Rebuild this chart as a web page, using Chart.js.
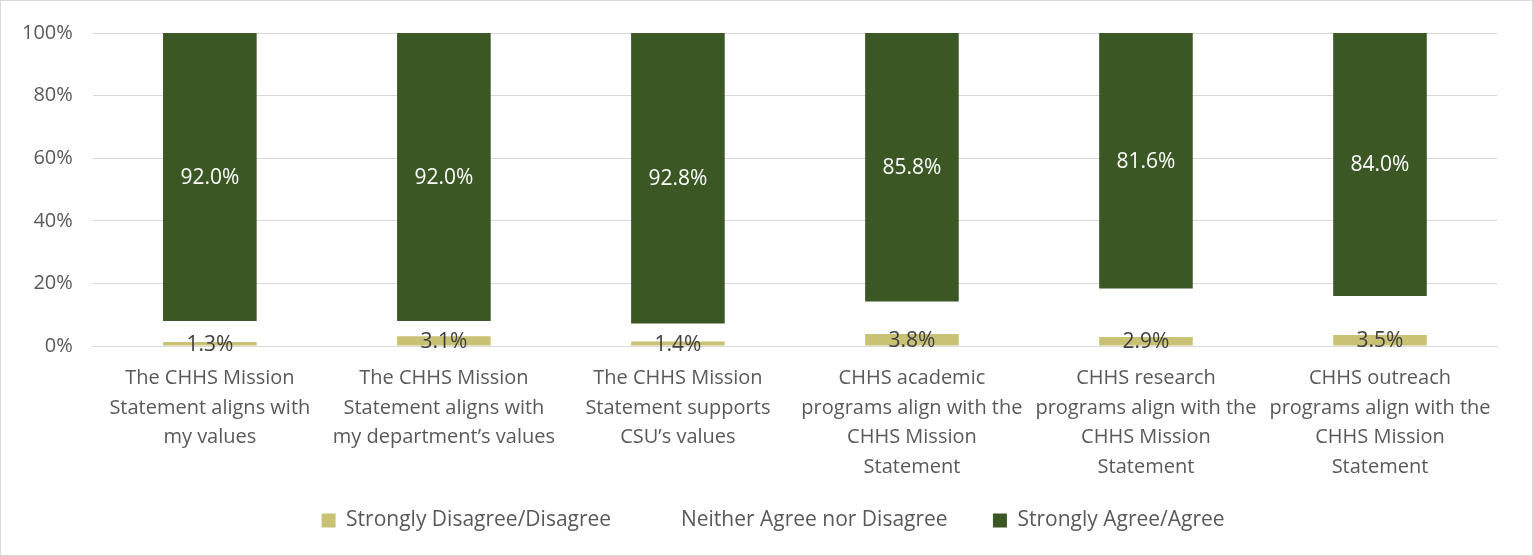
<!DOCTYPE html>
<html>
<head>
<meta charset="utf-8">
<script src="https://cdn.jsdelivr.net/npm/chart.js@4"></script>
<style>
  html, body { margin: 0; padding: 0; background: #fff; }
  #wrap { width: 1533px; height: 556px; box-sizing: border-box; border: 1px solid #d9d9d9; position: relative; }
</style>
</head>
<body>
<div id="wrap"><canvas id="grafica"></canvas></div>
<script>
// Datos de la gráfica
const categorias = [
  ["The CHHS Mission", "Statement aligns with", "my values"],
  ["The CHHS Mission", "Statement aligns with", "my department’s values"],
  ["The CHHS Mission", "Statement supports", "CSU’s values"],
  ["CHHS academic", "programs align with the", "CHHS Mission", "Statement"],
  ["CHHS research", "programs align with the", "CHHS Mission", "Statement"],
  ["CHHS outreach", "programs align with the", "CHHS Mission", "Statement"]
];
const series = ["Strongly Disagree/Disagree", "Neither Agree nor Disagree", "Strongly Agree/Agree"];
const desacuerdo = [1.3, 3.1, 1.4, 3.8, 2.9, 3.5];
const neutral = [6.7, 4.9, 5.8, 10.4, 15.5, 12.5];
const acuerdo = [92.0, 92.0, 92.8, 85.8, 81.6, 84.0];
const ticksY = [0, 20, 40, 60, 80, 100];

const fuente = "'Open Sans', sans-serif";
const gris = "#595959";

// Etiquetas de valores dentro de las barras
const etiquetas = {
  id: "etiquetas",
  afterDatasetsDraw(chart) {
    const ctx = chart.ctx;
    ctx.save();
    ctx.font = "21px " + fuente;
    ctx.textAlign = "center";
    ctx.textBaseline = "middle";
    chart.data.datasets.forEach((ds, i) => {
      if (!ds.mostrarEtiqueta) return;
      const meta = chart.getDatasetMeta(i);
      meta.data.forEach((bar, j) => {
        const p = bar.getProps(["x", "y", "base"], true);
        ctx.fillStyle = ds.colorEtiqueta;
        ctx.fillText(ds.data[j].toFixed(1) + "%", p.x, (p.y + p.base) / 2 + 1);
      });
    });
    ctx.restore();
  }
};

// Leyenda: espacio extra entre elementos (como en Excel)
function generarLeyenda(chart) {
  const items = Chart.defaults.plugins.legend.labels.generateLabels(chart);
  items.forEach((it, i) => {
    it.text = it.text + (i < items.length - 1 ? "     " : "        ");
  });
  return items;
}

new Chart(document.getElementById("grafica"), {
  type: "bar",
  data: {
    labels: categorias,
    datasets: [
      { label: series[0], data: desacuerdo, backgroundColor: "#c9c274", mostrarEtiqueta: true, colorEtiqueta: "#404040" },
      { label: series[1], data: neutral, backgroundColor: "rgba(255,255,255,0)", mostrarEtiqueta: false },
      { label: series[2], data: acuerdo, backgroundColor: "#3a5724", mostrarEtiqueta: true, colorEtiqueta: "#ffffff" }
    ]
  },
  options: {
    responsive: true,
    maintainAspectRatio: false,
    animation: false,
    datasets: { bar: { categoryPercentage: 1, barPercentage: 0.4 } },
    layout: { padding: { top: 23, right: 35, left: 1, bottom: 14 } },
    plugins: {
      legend: {
        position: "bottom",
        fullSize: false,
        labels: {
          boxWidth: 14, boxHeight: 14, padding: 18,
          color: gris, font: { family: fuente, size: 21 },
          generateLabels: generarLeyenda
        }
      },
      tooltip: { enabled: false }
    },
    scales: {
      x: {
        stacked: true,
        grid: { display: false },
        border: { color: "#d9d9d9" },
        ticks: {
          color: gris, font: { family: fuente, size: 20, lineHeight: 1.475 },
          autoSkip: false, maxRotation: 0, padding: 10
        }
      },
      y: {
        stacked: true, min: 0, max: 100,
        afterBuildTicks: (axis) => { axis.ticks = ticksY.map(v => ({ value: v })); },
        grid: { color: "#d9d9d9", drawTicks: false },
        border: { display: false },
        ticks: {
          color: gris, font: { family: fuente, size: 20 }, padding: 20,
          callback: (v) => v + "%"
        }
      }
    }
  },
  plugins: [etiquetas]
});
</script>
</body>
</html>
